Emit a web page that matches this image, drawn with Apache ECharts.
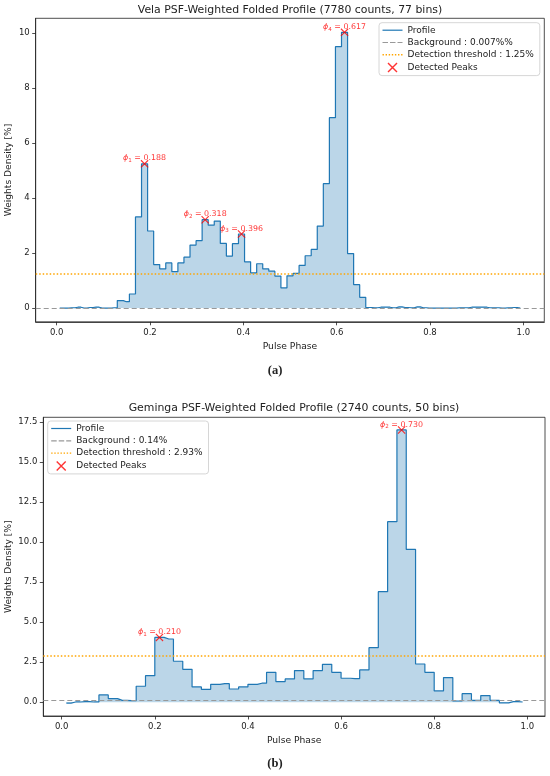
<!DOCTYPE html>
<html>
<head>
<meta charset="utf-8">
<title>PSF-Weighted Folded Profiles</title>
<style>
  body { margin: 0; padding: 0; background: #fff; }
  #main { width: 550px; height: 776px; }
</style>
</head>
<body>
<div id="main"></div>
<script src="https://cdn.jsdelivr.net/npm/echarts@6/dist/echarts.min.js"></script>
<script type="text/javascript">
// ---- data ----
// Vela, 77 phase bins (weights density in %)
var velaBins = 77;
var velaValues = [
  0.00, 0.00, 0.01, 0.03, 0.00, 0.02, 0.03, 0.00, 0.00, 0.01,
  0.27, 0.23, 0.51, 3.31, 5.24, 2.80, 1.58, 1.42, 1.64, 1.32,
  1.64, 1.85, 2.29, 2.45, 3.21, 3.01, 3.16, 2.35, 1.89, 2.34,
  2.69, 1.68, 1.28, 1.61, 1.42, 1.34, 1.16, 0.73, 1.17, 1.26,
  1.55, 1.90, 2.13, 2.98, 4.52, 6.92, 9.50, 10.02, 1.98, 0.85,
  0.39, 0.02, 0.01, 0.03, 0.03, 0.01, 0.04, 0.02, 0.01, 0.04,
  0.01, 0.00, 0.00, 0.00, 0.00, 0.00, 0.01, 0.01, 0.03, 0.03,
  0.03, 0.01, 0.01, 0.00, 0.01, 0.02, 0.00
];
var velaPeakIdx = [14, 24, 30, 47];
var velaBackground = 0.007;
var velaThreshold = 1.25;

// Geminga, 50 phase bins
var gemBins = 50;
var gemValues = [
  -0.05, 0.02, 0.04, 0.02, 0.46, 0.23, 0.12, 0.10, 1.00, 1.66,
  4.05, 3.95, 2.56, 2.06, 0.96, 0.81, 1.12, 1.16, 0.83, 0.96,
  1.12, 1.19, 1.87, 1.29, 1.46, 1.98, 1.46, 1.98, 2.37, 1.87,
  1.50, 1.48, 2.02, 3.41, 6.90, 11.27, 16.99, 9.54, 2.39, 1.87,
  0.71, 1.54, 0.08, 0.54, 0.12, 0.42, 0.12, -0.04, 0.04, 0.02
];
var gemPeakIdx = [10, 36];
var gemBackground = 0.14;
var gemThreshold = 2.93;

// tick labels
var phaseTicks = [0, 0.2, 0.4, 0.6, 0.8, 1.0];
var velaYTicks = [0, 2, 4, 6, 8, 10];
var gemYTicks = [0, 2.5, 5, 7.5, 10, 12.5, 15, 17.5];

var titles = [
  'Vela PSF-Weighted Folded Profile (7780 counts, 77 bins)',
  'Geminga PSF-Weighted Folded Profile (2740 counts, 50 bins)'
];
var legendNames = [
  ['Profile', 'Background : 0.007%%', 'Detection threshold : 1.25%', 'Detected Peaks'],
  ['Profile', 'Background : 0.14%', 'Detection threshold : 2.93%', 'Detected Peaks']
];
var yName = 'Weights Density [%]';

// ---- helpers ----
var FONT = 'DejaVu Sans';
var INK = '#222';
var C0 = '#1f77b4';
var GREY = '#999';
var ORANGE = '#ffa500';

// bin centres -> [phase, value]
function toPoints(values, bins) {
  return values.map(function (v, i) { return [(i + 0.5) / bins, v]; });
}
function peakPoints(values, bins, idx) {
  return idx.map(function (i) { return [(i + 0.5) / bins, values[i]]; });
}

var xMark = 'path://M0,1L1,0L10,9L9,10Z M9,0L10,1L1,10L0,9Z';
// legend handles (20 wide, thin)
var iconSolid = 'path://M0,4.4H20V5.6H0Z';
var iconDashed = 'path://M0,4.4H5.5V5.6H0Z M7.5,4.4H13V5.6H7.5Z M15,4.4H20V5.6H15Z';
var iconDotted = 'path://M0,4.3H1.4V5.7H0Z M3.1,4.3H4.5V5.7H3.1Z M6.2,4.3H7.6V5.7H6.2Z M9.3,4.3H10.7V5.7H9.3Z M12.4,4.3H13.8V5.7H12.4Z M15.5,4.3H16.9V5.7H15.5Z M18.6,4.3H20V5.7H18.6Z';

function xAxisFor(g, min, max) {
  return {
    gridIndex: g, type: 'value', min: min, max: max,
    name: 'Pulse Phase', nameLocation: 'middle', nameGap: 20,
    nameTextStyle: { fontFamily: FONT, fontSize: 9.2, color: INK },
    axisLine: { show: true, onZero: false, lineStyle: { color: INK, width: 0.8 } },
    axisTick: { show: true, length: 3.5, customValues: phaseTicks, lineStyle: { color: INK, width: 0.8 } },
    axisLabel: {
      customValues: phaseTicks, margin: 6, fontFamily: FONT, fontSize: 8.5, color: INK,
      formatter: function (v) { return v.toFixed(1); }
    },
    splitLine: { show: false }
  };
}

function yAxisFor(g, min, max, ticks, digits) {
  return {
    gridIndex: g, type: 'value', min: min, max: max,
    axisLine: { show: true, onZero: false, lineStyle: { color: INK, width: 0.8 } },
    axisTick: { show: true, length: 3.5, customValues: ticks, lineStyle: { color: INK, width: 0.8 } },
    axisLabel: {
      customValues: ticks, margin: 6, fontFamily: FONT, fontSize: 8.5, color: INK,
      formatter: function (v) { return v.toFixed(digits); }
    },
    splitLine: { show: false }
  };
}

function seriesFor(g, values, bins, peaks, bg, thr, names) {
  return [
    {
      name: names[0], type: 'line', xAxisIndex: g, yAxisIndex: g,
      step: 'middle', symbol: 'none', z: 2,
      data: toPoints(values, bins),
      itemStyle: { color: C0 },
      lineStyle: { color: C0, width: 1.2 },
      areaStyle: { color: C0, opacity: 0.3 }
    },
    {
      name: names[1], type: 'line', xAxisIndex: g, yAxisIndex: g,
      symbol: 'none', data: [],
      itemStyle: { color: GREY },
      lineStyle: { color: GREY, width: 1.2, type: [5, 3] },
      markLine: {
        silent: true, symbol: ['none', 'none'], label: { show: false },
        lineStyle: { color: GREY, width: 1.2, type: [5, 3] },
        data: [{ yAxis: bg, lineStyle: { color: GREY } }]
      }
    },
    {
      name: names[2], type: 'line', xAxisIndex: g, yAxisIndex: g,
      symbol: 'none', data: [],
      itemStyle: { color: ORANGE },
      lineStyle: { color: ORANGE, width: 1.5, type: [1.5, 2] },
      markLine: {
        silent: true, symbol: ['none', 'none'], label: { show: false },
        lineStyle: { color: ORANGE, width: 1.5, type: [1.5, 2], opacity: 1 },
        data: [{ yAxis: thr, lineStyle: { color: ORANGE } }]
      }
    },
    {
      name: names[3], type: 'scatter', xAxisIndex: g, yAxisIndex: g,
      symbol: xMark, symbolSize: 8, z: 6,
      itemStyle: { color: 'red' },
      data: peakPoints(values, bins, peaks),
      label: {
        show: true, position: 'top', distance: -4,
        formatter: function (p) {
          return '{phi|ϕ}{sub|' + (p.dataIndex + 1) + '}{t| = ' + p.value[0].toFixed(3) + '}';
        },
        rich: {
          phi: { fontFamily: FONT, fontStyle: 'italic', fontSize: 7.9, color: 'red', lineHeight: 11 },
          sub: { fontFamily: FONT, fontSize: 5.6, color: 'red', lineHeight: 11, verticalAlign: 'bottom' },
          t: { fontFamily: FONT, fontSize: 7.9, color: 'red', lineHeight: 11 }
        }
      }
    }
  ];
}

function legendFor(left, top, names) {
  var icons = [iconSolid, iconDashed, iconDotted, null];
  return {
    data: names.map(function (n, i) {
      return icons[i] ? { name: n, icon: icons[i] } : { name: n };
    }),
    orient: 'vertical', left: left, top: top,
    selectedMode: false, symbolKeepAspect: true,
    itemWidth: 20, itemHeight: 10, itemGap: 3.3,
    padding: [3, 6, 3, 3.5],
    backgroundColor: 'rgba(255,255,255,0.8)',
    borderColor: '#ccc', borderWidth: 0.8, borderRadius: 3,
    textStyle: { fontFamily: FONT, fontSize: 9, color: INK }
  };
}

function textAt(text, x, y, rot, style) {
  var s = { text: text, align: 'center', verticalAlign: 'middle', fill: INK };
  for (var k in style) s[k] = style[k];
  return { type: 'text', x: x, y: y, rotation: rot, style: s };
}

var chart = echarts.init(document.getElementById('main'));

chart.setOption({
  animation: false,
  backgroundColor: '#fff',
  grid: [
    { left: 35.7, top: 18.3, width: 508.6, height: 303.5, show: true, borderColor: INK, borderWidth: 0.8 },
    { left: 43.3, top: 417.3, width: 501.7, height: 298.7, show: true, borderColor: INK, borderWidth: 0.8 }
  ],
  legend: [
    legendFor(379, 22.7, legendNames[0]),
    legendFor(47.7, 421, legendNames[1])
  ],
  xAxis: [
    xAxisFor(0, -0.045, 1.045),
    xAxisFor(1, -0.0395, 1.038)
  ],
  yAxis: [
    yAxisFor(0, -0.5, 10.53, velaYTicks, 0),
    yAxisFor(1, -0.855, 17.78, gemYTicks, 1)
  ],
  series: seriesFor(0, velaValues, velaBins, velaPeakIdx, velaBackground, velaThreshold, legendNames[0])
    .concat(seriesFor(1, gemValues, gemBins, gemPeakIdx, gemBackground, gemThreshold, legendNames[1])),
  graphic: [
    // panel titles
    textAt(titles[0], 290, 10, 0, { fontFamily: FONT, fontSize: 10.9 }),
    textAt(titles[1], 294, 408.3, 0, { fontFamily: FONT, fontSize: 10.9 }),
    // y axis titles
    textAt(yName, 8.5, 170, Math.PI / 2, { fontFamily: FONT, fontSize: 9.1 }),
    textAt(yName, 8.5, 566.7, Math.PI / 2, { fontFamily: FONT, fontSize: 9.1 }),
    // panel captions
    textAt('(a)', 275, 371, 0, { fontFamily: 'Liberation Serif', fontWeight: 'bold', fontSize: 12.5 }),
    textAt('(b)', 275, 764, 0, { fontFamily: 'Liberation Serif', fontWeight: 'bold', fontSize: 12.5 })
  ]
});

window.addEventListener('resize', function () { chart.resize(); });
</script>
</body>
</html>
